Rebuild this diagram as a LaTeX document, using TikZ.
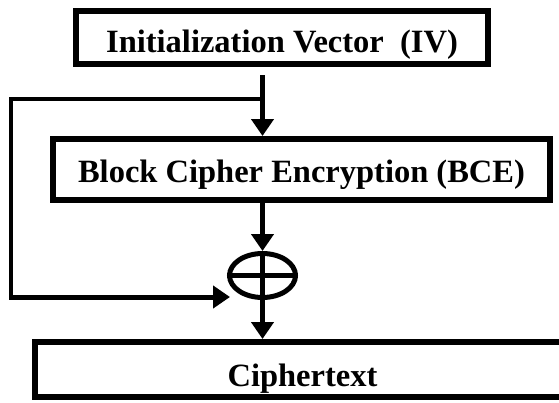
\documentclass[tikz,border=0pt]{standalone}
\usepackage{fontspec}
\setmainfont{Liberation Serif}
\usetikzlibrary{arrows.meta,shapes.geometric}

\begin{document}
\begin{tikzpicture}[x=1pt,y=1pt,yscale=-1,
	boxnode/.style={draw,line width=6pt,inner sep=0pt,font=\fontsize{32.5}{38}\selectfont\bfseries,text depth=0pt},
	flow/.style={line width=5pt,-{Triangle[length=17pt,width=22pt]}},
	back/.style={line width=3.5pt,line cap=rect}]
	\useasboundingbox (0,0) rectangle (559,402);
	\clip (0,0) rectangle (559,402);

	\node (iv) [boxnode,minimum width=412pt,minimum height=53pt,text height=29pt] at (282,37.5) {Initialization Vector\ \ (IV)};
	\node (bce) [boxnode,minimum width=497pt,minimum height=61pt,text height=26pt] at (301.5,169.5) {Block Cipher Encryption (BCE)};
	\node (ct) [boxnode,minimum width=535pt,minimum height=55pt,text height=34pt] at (302.5,369.5) {Ciphertext};
	\node (xor) [ellipse,draw,line width=5pt,minimum width=66pt,minimum height=44pt,inner sep=0pt] at (262.5,275.5) {};

	\coordinate (ivout) at (262.5,75);
	\coordinate (split) at (262.5,99);
	\coordinate (loop) at (11,297);
	\coordinate (fbin) at (230,297);

	\draw [flow] (ivout) -- (ivout |- bce.north);
	\draw [back] (split) -| (loop);
	\draw [flow,shorten <=-1.75pt] (loop) -- (fbin);
	\draw [flow] (bce.south -| xor) -- (xor.north);
	\draw [line width=4.5pt] (xor.north) -- (xor.south);
	\draw [line width=4.5pt] (xor.west) -- (xor.east);
	\draw [flow] (xor.south) -- (xor.south |- ct.north);
\end{tikzpicture}
\end{document}
